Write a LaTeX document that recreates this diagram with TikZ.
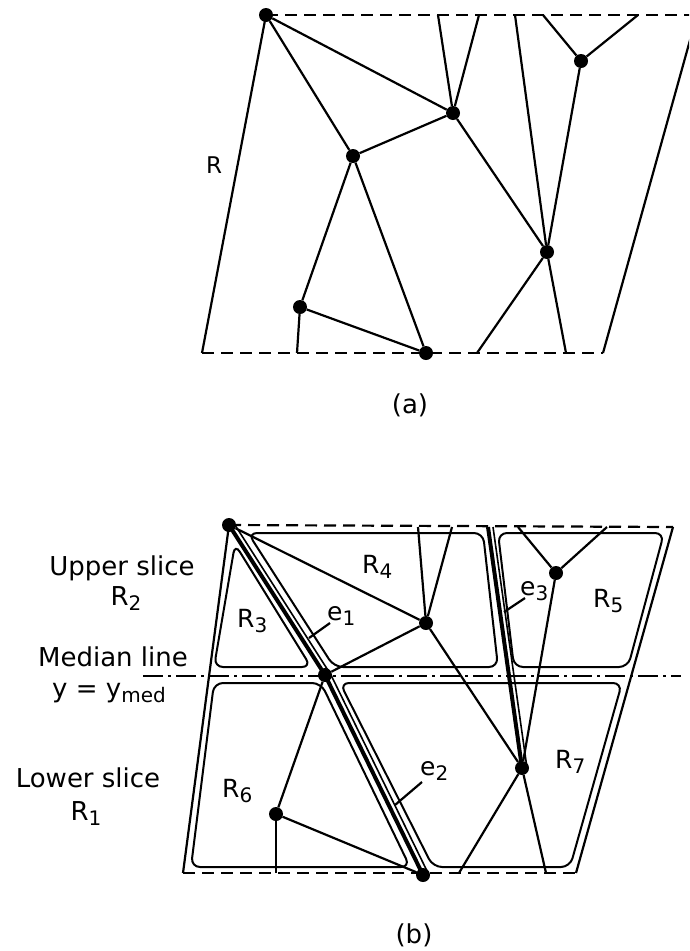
\documentclass[tikz,border=0pt]{standalone}
\usepackage{fontspec}
\setmainfont{DejaVu Sans}
\newcommand{\lowidx}[1]{\raisebox{-0.2em}{\fontsize{20}{20}\selectfont #1}}

\begin{document}
\begin{tikzpicture}[x=1pt,y=-1pt,
  edge/.style={line width=2.2pt},
  cutedge/.style={line width=4pt},
  border/.style={line width=2.2pt, dash pattern=on 12pt off 7pt},
  region/.style={line width=2pt, rounded corners=9pt},
  medline/.style={line width=1.8pt, dash pattern=on 20pt off 5pt on 3pt off 5pt},
  dot/.style={circle, fill, inner sep=0pt, minimum size=14pt},
  lbl/.style={font=\fontsize{25}{30}\selectfont, inner sep=0pt, anchor=base west},
  side/.style={font=\fontsize{26}{30}\selectfont, inner sep=0pt, anchor=base}]
\useasboundingbox (0,0) rectangle (689,951);
\clip (0,0) rectangle (689,951);

% (a) the diagram R
\node[dot] (a1) at (266,15) {};
\node[dot] (a2) at (453,113) {};
\node[dot] (a3) at (353,156) {};
\node[dot] (a4) at (300,307) {};
\node[dot] (a5) at (426,353) {};
\node[dot] (a6) at (547,252) {};
\node[dot] (a7) at (581,61) {};
\coordinate (aTR) at (697,15);
\coordinate (aBR) at (603,353);
\coordinate (aBL) at (202,353);
\coordinate (aT1) at (438,15);
\coordinate (aT2) at (479,15);
\coordinate (aT3) at (515,15);
\coordinate (aT4) at (543,15);
\coordinate (aT5) at (638,15);
\coordinate (aB1) at (297,353);
\coordinate (aB2) at (477,353);
\coordinate (aB3) at (566,353);

\draw[border] (a1.center) -- (aTR);
\draw[border] (aBL) -- (aBR);
\draw[edge] (a1.center) -- (aBL);
\draw[edge] (aBR) -- (aTR);

\draw[edge] (a1) -- (a2) -- (a3) -- (a1);
\draw[edge] (a3) -- (a4) -- (a5) -- (a3);
\draw[edge] (a4) -- (aB1);
\draw[edge] (aT1) -- (a2) -- (aT2);
\draw[edge] (a2) -- (a6);
\draw[edge] (aT3) -- (a6) -- (aB3);
\draw[edge] (aT4) -- (a7) -- (aT5);
\draw[edge] (a7) -- (a6) -- (aB2);

\node[lbl, font=\fontsize{23}{26}\selectfont] (labR) at (206,173) {R};
\node[side] (capa) at (410,413) {(a)};

% (b) the same diagram cut into slices
\node[dot] (b1) at (229,525) {};
\node[dot] (b2) at (426,623) {};
\node[dot] (b3) at (325,675) {};
\node[dot] (b4) at (276,814) {};
\node[dot] (b5) at (423,875) {};
\node[dot] (b6) at (522,768) {};
\node[dot] (b7) at (556,573) {};
\coordinate (bTR) at (673,527);
\coordinate (bBR) at (576,873);
\coordinate (bBL) at (183,873);
\coordinate (bT1) at (418,527);
\coordinate (bT2) at (452,527);
\coordinate (bT3) at (488,527);
\coordinate (bT4) at (518,527);
\coordinate (bT5) at (607,527);
\coordinate (bB1) at (276,873);
\coordinate (bB2) at (459,873);
\coordinate (bB3) at (546,873);
\coordinate (medL) at (143,676);
\coordinate (medR) at (681,676);

% regions
\draw[region] (235,544) -- (311,667) -- (214,667) -- cycle;
\draw[region] (248,533) -- (483,533) -- (498,667) -- (334,667) -- cycle;
\draw[region] (498,533) -- (664,533) -- (628,667) -- (514,667) -- cycle;
\draw[region] (214,683) -- (321,683) -- (410,867) -- (191,867) -- cycle;
\draw[region] (340,683) -- (622,683) -- (570,867) -- (433,867) -- cycle;

\draw[border] (b1.center) -- (bTR);
\draw[border] (bBL) -- (bBR);
\draw[edge] (b1.center) -- (bBL);
\draw[edge] (bBR) -- (bTR);
\draw[medline] (medL) -- (medR);

\draw[edge] (b1) -- (b2) -- (b3);
\draw[edge] (b3) -- (b4) -- (b5);
\draw[edge] (b4) -- (bB1);
\draw[edge] (bT1) -- (b2) -- (bT2);
\draw[edge] (b2) -- (b6);
\draw[edge] (b6) -- (bB3);
\draw[edge] (bT4) -- (b7) -- (bT5);
\draw[edge] (b7) -- (b6) -- (bB2);

% cut edges e1, e2, e3
\draw[cutedge] (b1.center) -- (b3.center) -- (b5.center);
\draw[edge, line width=1.6pt] ([xshift=6pt]b1.center) -- ([xshift=6pt]b3.center) -- ([xshift=6pt]b5.center);
\draw[cutedge] (bT3) -- (b6.center);
\draw[edge, line width=1.6pt] ([xshift=5pt]bT3) -- ([xshift=5pt]b6.center);

% leaders
\coordinate (e1a) at (309,638);
\coordinate (e1b) at (330,623);
\coordinate (e2a) at (395,805);
\coordinate (e2b) at (422,782);
\coordinate (e3a) at (504,612);
\coordinate (e3b) at (525,598);
\draw[edge] (e1a) -- (e1b);
\draw[edge] (e2a) -- (e2b);
\draw[edge] (e3a) -- (e3b);

\node[lbl] (labe1) at (327,620) {e\lowidx{1}};
\node[lbl] (labe2) at (420,775) {e\lowidx{2}};
\node[lbl] (labe3) at (520,595) {e\lowidx{3}};
\node[lbl] (labR3) at (237,627) {R\lowidx{3}};
\node[lbl] (labR4) at (362,573) {R\lowidx{4}};
\node[lbl] (labR5) at (593,607) {R\lowidx{5}};
\node[lbl] (labR6) at (222,797) {R\lowidx{6}};
\node[lbl] (labR7) at (555,768) {R\lowidx{7}};

\node[side] (upper) at (122,575) {Upper slice};
\node[side] (upperR) at (126,605) {R\lowidx{2}};
\node[side] (median) at (113,666) {Median line};
\node[side] (ymed) at (109,697) {y = y\lowidx{med}};
\node[side] (lower) at (88,787) {Lower slice};
\node[side] (lowerR) at (86,820) {R\lowidx{1}};
\node[side] (capb) at (414,943) {(b)};
\end{tikzpicture}
\end{document}
